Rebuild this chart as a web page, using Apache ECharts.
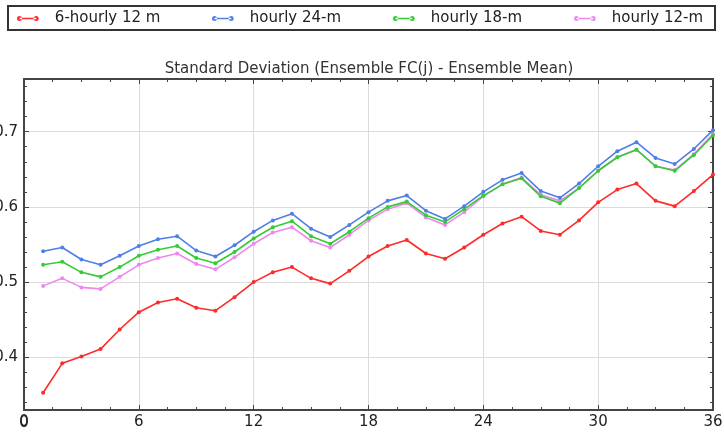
<!DOCTYPE html>
<html><head><meta charset="utf-8">
<script src="https://cdn.jsdelivr.net/npm/echarts@6/dist/echarts.min.js"></script>
<style>html,body{margin:0;padding:0;background:#fff}#c{width:724px;height:432px}</style>
</head><body><div id="c"></div>
<script>
const hours = [1,2,3,4,5,6,7,8,9,10,11,12,13,14,15,16,17,18,19,20,21,22,23,24,25,26,27,28,29,30,31,32,33,34,35,36];
const sixHourly12 = [0.353,0.392,0.401,0.411,0.437,0.460,0.473,0.478,0.466,0.462,0.480,0.500,0.513,0.520,0.505,0.498,0.515,0.534,0.548,0.556,0.538,0.531,0.546,0.563,0.578,0.587,0.568,0.563,0.582,0.606,0.623,0.631,0.608,0.601,0.621,0.643];
const hourly24 = [0.541,0.546,0.530,0.523,0.535,0.548,0.557,0.561,0.542,0.534,0.549,0.567,0.582,0.591,0.571,0.560,0.576,0.593,0.608,0.615,0.595,0.584,0.601,0.620,0.636,0.645,0.621,0.612,0.631,0.654,0.674,0.686,0.665,0.657,0.677,0.702];
const hourly18 = [0.523,0.527,0.513,0.507,0.520,0.535,0.543,0.548,0.532,0.525,0.540,0.558,0.573,0.581,0.561,0.551,0.567,0.585,0.600,0.607,0.589,0.580,0.597,0.615,0.630,0.638,0.614,0.605,0.625,0.648,0.666,0.676,0.654,0.648,0.669,0.695];
const hourly12 = [0.495,0.505,0.493,0.491,0.507,0.523,0.532,0.538,0.524,0.517,0.533,0.551,0.566,0.573,0.555,0.546,0.563,0.582,0.597,0.605,0.586,0.576,0.593,0.614,0.630,0.639,0.616,0.608,0.625,0.648,0.666,0.676,0.654,0.649,0.670,0.697];
const seriesNames = ['6-hourly 12 m','hourly 24-m','hourly 18-m','hourly 12-m'];
const seriesColors = ['#ff2a2a','#4f7fe6','#33cc33','#ee88ee'];
const xTicks = [0,6,12,18,24,30,36];
const yTicks = [0.4,0.5,0.6,0.7];
const yRange = [0.33, 0.77];
const titleText = 'Standard Deviation (Ensemble FC(j) - Ensemble Mean)';

const allData = [sixHourly12, hourly24, hourly18, hourly12];
const chart = echarts.init(document.getElementById('c'));
const legendLeft = [17, 212, 393, 574];
const legendIcon = 'path://M0,3a3,3 0 1,0 6,0a3,3 0 1,0 -6,0z M20,3a3,3 0 1,0 6,0a3,3 0 1,0 -6,0z M3,2.2h20v1.6h-20z';
const axisCol = '#444';
const labelFont = {fontSize:15, color:'#222', fontFamily:'DejaVu Sans'};
function xAx(pos, labels){
  return {type:'value', position:pos, min:xTicks[0], max:xTicks[xTicks.length-1], interval:6,
    axisLine:{show:true, onZero:false, lineStyle:{color:axisCol, width:2}},
    axisTick:{show:true, inside:true, length:5, lineStyle:{color:axisCol}},
    minorTick:{show:true, splitNumber:4, length:3, lineStyle:{color:axisCol}},
    splitLine:{show:pos==='bottom', lineStyle:{color:'#dcdcdc', width:1}},
    axisLabel:Object.assign({show:labels, margin:5, showMinLabel:true, showMaxLabel:true}, labelFont)};
}
function yAx(pos, labels){
  return {type:'value', position:pos, min:yRange[0], max:yRange[1], splitNumber:5,
    axisLine:{show:true, onZero:false, lineStyle:{color:axisCol, width:2}},
    axisTick:{show:true, inside:true, length:5, lineStyle:{color:axisCol}},
    minorTick:{show:true, splitNumber:5, length:3, lineStyle:{color:axisCol}},
    splitLine:{show:pos==='left', lineStyle:{color:'#dcdcdc', width:1}},
    axisLabel:Object.assign({show:labels, margin:6, showMinLabel:false, showMaxLabel:false,
      formatter: v => yTicks.some(t=>Math.abs(t-v)<1e-6) ? v.toFixed(1) : ''}, labelFont)};
}
chart.setOption({
  animation:false,
  backgroundColor:'#fff',
  title:{text:titleText, left:369, textAlign:'center', top:62, padding:0,
    textStyle:{fontSize:15, fontWeight:'normal', color:'#333', fontFamily:'DejaVu Sans'}},
  legend: seriesNames.map((n,i)=>({data:[n], left:legendLeft[i], top:11, itemWidth:26, itemHeight:5,
    icon:legendIcon, itemStyle:{color:seriesColors[i], borderWidth:0},
    textStyle:{fontSize:15, color:'#222', fontFamily:'DejaVu Sans', padding:[0,0,0,9]}, padding:0})),
  graphic:[{id:'legendBox', type:'rect', shape:{x:8, y:6, width:707, height:24}, style:{fill:'none', stroke:'#333', lineWidth:2}, z:100}],
  grid:{left:24, right:11, top:79, bottom:22, containLabel:false, outerBoundsMode:'none'},
  xAxis:[xAx('bottom', true), xAx('top', false)],
  yAxis:[yAx('left', true), yAx('right', false)],
  series: allData.map((d,i)=>({name:seriesNames[i], type:'line', data:hours.map((h,j)=>[h,d[j]]),
    symbol:'circle', symbolSize:4, showSymbol:true, color:seriesColors[i],
    lineStyle:{width:1.6, color:seriesColors[i]}, itemStyle:{color:seriesColors[i]}, z:10-i}))
});
// The origin label "0" is suppressed by ECharts at the axis crossing; place it at the scale's own position.
const origin = chart.convertToPixel({xAxisIndex:0, yAxisIndex:0}, [xTicks[0], yRange[0]]);
chart.setOption({graphic:[{id:'xZero', type:'text', x:origin[0], y:origin[1] + 6,
  style:Object.assign({text:String(xTicks[0]), align:'center', verticalAlign:'top', fill:'#222',
    font:'15px "DejaVu Sans"'})}]});
</script></body></html>
